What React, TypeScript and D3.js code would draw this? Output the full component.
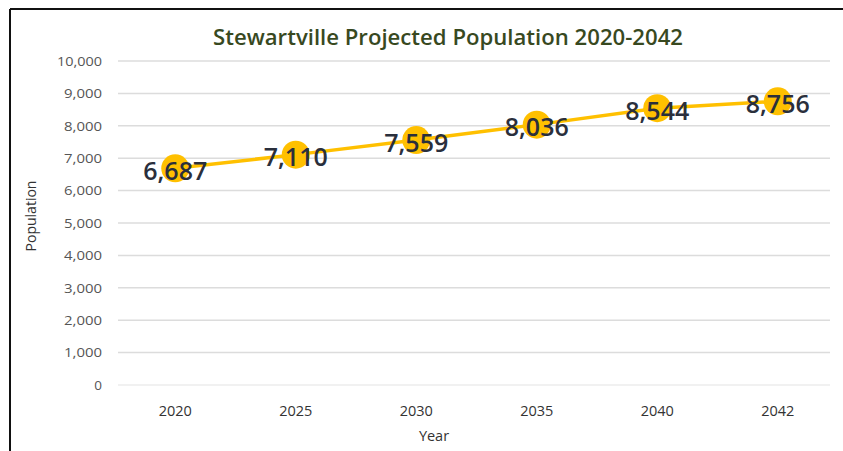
import React from "react";
import * as d3 from "d3";

const years = ["2020", "2025", "2030", "2035", "2040", "2042"];
const population = [6687, 7110, 7559, 8036, 8544, 8756];
const yTicks = [0, 1000, 2000, 3000, 4000, 5000, 6000, 7000, 8000, 9000, 10000];
const title = "Stewartville Projected Population 2020-2042";

export default function App() {
  const W = 843, H = 451;
  const x = d3.scaleBand<string>().domain(years).range([115, 838]);
  const y = d3.scaleLinear().domain([0, 10000]).range([385, 61]);
  const fmt = d3.format(",");
  const line = d3
    .line<number>()
    .x((_, i) => (x(years[i]) as number) + x.bandwidth() / 2)
    .y((d) => y(d));
  const font = "'Open Sans', 'Noto Sans', sans-serif";
  return (
    <svg
      width={W}
      height={H}
      style={{ position: "absolute", left: 0, top: 0, background: "#fff" }}
      fontFamily={font}
    >
      <rect x={0} y={0} width={W} height={H} fill="#fff" />
      <line x1={10} x2={W} y1={9} y2={9} stroke="#111" strokeWidth={2} />
      <line x1={10} x2={10} y1={9} y2={H} stroke="#111" strokeWidth={2} />
      <text
        x={448}
        y={45}
        textAnchor="middle"
        fontSize={21}
        fontWeight="600"
        fill="#38491f"
        textLength={470}
        lengthAdjust="spacingAndGlyphs"
      >
        {title}
      </text>
      {yTicks.map((t) => (
        <g key={t}>
          <line
            x1={118}
            x2={830}
            y1={y(t)}
            y2={y(t)}
            stroke={t === 0 ? "#ececec" : "#dcdcdc"}
            strokeWidth={1.5}
          />
          <text
            x={102}
            y={y(t)}
            dy="0.35em"
            textAnchor="end"
            fontSize={13.5}
            fill="#555"
            textLength={t >= 10000 ? 45 : t >= 1000 ? 38 : undefined}
            lengthAdjust="spacingAndGlyphs"
          >
            {fmt(t)}
          </text>
        </g>
      ))}
      {years.map((yr) => (
        <text
          key={yr}
          x={(x(yr) as number) + x.bandwidth() / 2}
          y={416}
          textAnchor="middle"
          fontSize={14.5}
          fill="#333"
        >
          {yr}
        </text>
      ))}
      <text x={434} y={441} textAnchor="middle" fontSize={14.5} fill="#333">
        Year
      </text>
      <text
        transform={`translate(36,216) rotate(-90)`}
        textAnchor="middle"
        fontSize={14}
        fill="#333"
      >
        Population
      </text>
      <path d={line(population) || ""} fill="none" stroke="#FFC000" strokeWidth={3.5} />
      {population.map((v, i) => (
        <circle
          key={i}
          cx={(x(years[i]) as number) + x.bandwidth() / 2}
          cy={y(v)}
          r={14}
          fill="#FFC000"
        />
      ))}
      {population.map((v, i) => (
        <text
          key={"l" + i}
          x={(x(years[i]) as number) + x.bandwidth() / 2}
          y={y(v) + 3}
          dy="0.35em"
          textAnchor="middle"
          fontSize={25}
          fontWeight="600"
          fill="#2a2f3c"
        >
          {fmt(v)}
        </text>
      ))}
    </svg>
  );
}
